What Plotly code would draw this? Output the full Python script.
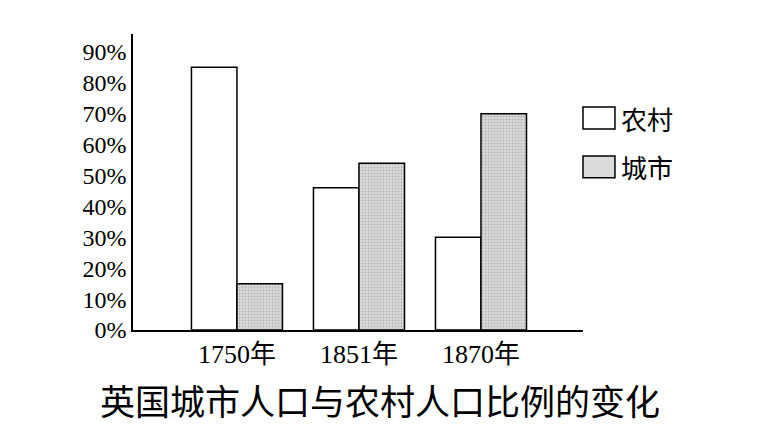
import plotly.graph_objects as go

# 数据
years = ["1750年", "1851年", "1870年"]
rural = [85, 46, 30]   # 农村
urban = [15, 54, 70]   # 城市
y_ticks = [0, 10, 20, 30, 40, 50, 60, 70, 80, 90]
y_labels = [f"{v}%" for v in y_ticks]
legend_names = ["农村", "城市"]
title_text = "英国城市人口与农村人口比例的变化"

serif = "Liberation Serif, Noto Sans CJK SC, serif"
cjk = "Noto Sans CJK SC, sans-serif"
grey_bg = "#dcdcdc"
grey_fg = "#8c8c8c"

fig = go.Figure()

fig.add_trace(go.Bar(
    x=list(range(len(years))), y=rural, name=legend_names[0],
    marker=dict(color="white", line=dict(color="black", width=1.5)),
    showlegend=False,
))
fig.add_trace(go.Bar(
    x=list(range(len(years))), y=urban, name=legend_names[1],
    marker=dict(color=grey_bg, line=dict(color="black", width=1.5),
                pattern=dict(shape=".", bgcolor=grey_bg, fgcolor=grey_fg,
                             size=3, solidity=0.35)),
    showlegend=False,
))

# 图例：方框 + 文字
boxes = [(0.753, 0.679, "white"), (0.588, 0.514, grey_bg)]
for (y1, y0, col), name in zip(boxes, legend_names):
    fig.add_shape(type="rect", xref="paper", yref="paper",
                  x0=1.0, x1=1.071, y0=y0, y1=y1,
                  fillcolor=col, line=dict(color="black", width=1.5))
    fig.add_annotation(x=1.08, y=(y0 + y1) / 2, xref="paper", yref="paper",
                       text=name, showarrow=False, xanchor="left",
                       yanchor="middle", font=dict(family=cjk, size=26, color="black"))

# 标题
fig.add_annotation(x=0.549, y=-0.236, xref="paper", yref="paper",
                   text=title_text, showarrow=False, xanchor="center",
                   yanchor="middle", font=dict(family=cjk, size=35, color="black"))

# 页面本身有 8px 的边距，所以这里整体缩小 8px
fig.update_layout(
    width=754, height=429,
    margin=dict(l=125, r=179, t=26, b=107),
    paper_bgcolor="white", plot_bgcolor="white",
    barmode="group", bargap=0.254, bargroupgap=0,
    xaxis=dict(range=[-0.852, 2.836], tickmode="array",
               tickvals=list(range(len(years))), ticktext=years,
               showgrid=False, zeroline=False, showline=True,
               linecolor="black", linewidth=1.5, ticks="",
               tickfont=dict(family=serif, size=26, color="black")),
    yaxis=dict(range=[0, 95.8], tickmode="array", tickvals=y_ticks,
               ticktext=y_labels, showgrid=False, zeroline=False,
               showline=True, linecolor="black", linewidth=1.5, ticks="",
               tickfont=dict(family=serif, size=24, color="black")),
)

fig.write_html("out.html")
